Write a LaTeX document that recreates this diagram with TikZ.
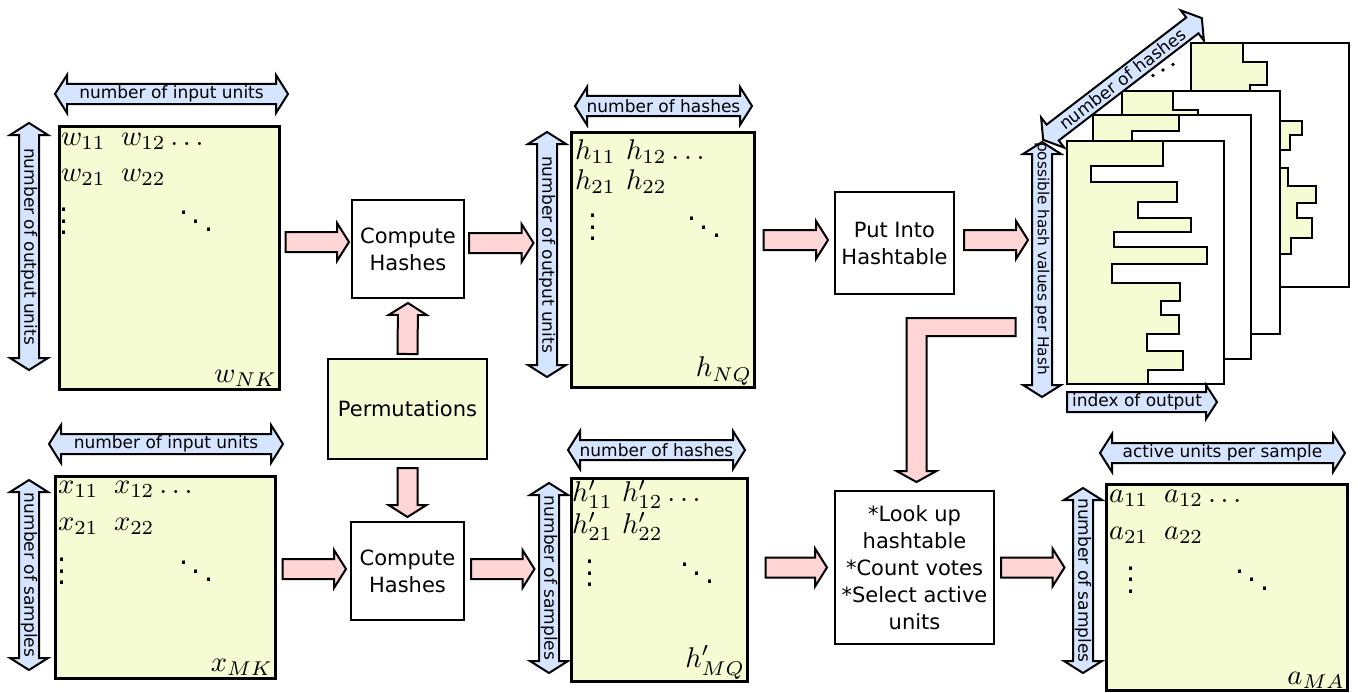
\RequirePackage{fix-cm}
\documentclass[tikz,border=0pt]{standalone}
\usepackage[no-math]{fontspec}
\setmainfont{DejaVu Sans}
\usetikzlibrary{calc}
\definecolor{mat}{RGB}{245,252,212}
\definecolor{dimblue}{RGB}{213,229,255}
\definecolor{flow}{RGB}{255,213,213}
\tikzset{
  matbox/.style={draw, line width=3pt, fill=mat, inner sep=0},
  proc/.style={draw, line width=2pt, fill=white, align=center, inner sep=0,
    font=\fontsize{21}{27}\selectfont},
  dim/.style={draw, line width=2pt, fill=dimblue},
  dimtext/.style={inner sep=0, font=\fontsize{17}{20}\selectfont},
  fat/.style={draw, line width=2pt, fill=flow},
  entry/.style={inner sep=0, anchor=west, scale=2.85},
  pageline/.style={line width=2pt}
}
% fat block arrow from #1 to #2
\newcommand{\fatarrow}[2]{
  \coordinate (fa-s) at (#1);
  \coordinate (fa-e) at (#2);
  \coordinate (fa-h) at ($(fa-e)!12pt!(fa-s)$);
  \draw[fat] ($(fa-s)!10pt!90:(fa-e)$) -- ($(fa-h)!10pt!-90:(fa-s)$) -- ($(fa-h)!19pt!-90:(fa-s)$)
    -- (fa-e) -- ($(fa-h)!19pt!90:(fa-s)$) -- ($(fa-h)!10pt!90:(fa-s)$) -- ($(fa-s)!10pt!-90:(fa-e)$) -- cycle;
}
% double headed size arrow: [text options] name, centre, angle, length, text
\newcommand{\dimarrow}[6][]{
  \begin{scope}[shift={#3}, rotate=#4]
    \pgfmathsetmacro\hl{#5/2}
    \draw[dim] (-\hl,0) --++(12,19) --++(0,-9) -- (\hl-12,10) --++(0,9) -- (\hl,0)
      --++(-12,-19) --++(0,9) -- (-\hl+12,-10) --++(0,-9) -- cycle;
  \end{scope}
  \node[dimtext, #1, rotate=#4] (#2) at #3 {#6};
}
% one page of the hashtable: left, top, right, bottom, steps
\newcommand{\hashpage}[5]{
  \filldraw[pageline, fill=white] (#1,#2) rectangle (#3,#4);
  \filldraw[pageline, fill=mat] (#1,#2) \foreach \sx/\sy in {#5}{ -| (\sx,\sy)} -- (#1,#4) -- cycle;
  \draw[pageline] (#1,#2) rectangle (#3,#4);
}

\begin{document}
\begin{tikzpicture}[x=1pt, y=-1pt]
\useasboundingbox (0,0) rectangle (1358,693);

% matrices
\node[matbox, minimum width=220, minimum height=263] (W) at (169,257.5) {};
\node[matbox, minimum width=183, minimum height=255] (H) at (662.5,259.5) {};
\node[matbox, minimum width=220, minimum height=202] (X) at (165,577) {};
\node[matbox, minimum width=176, minimum height=203] (Hp) at (659,579.5) {};
\node[matbox, minimum width=241, minimum height=206] (A) at (1226.5,587.5) {};
\foreach \b/\s/\last/\cA/\cB/\rA/\rB/\v/\d in {W/w/NK/3/63/17/53/7/139, H/h/NQ/5/56/21/51/24/135,
    X/x/MK/4/60/15/52/9/143, Hp/h'/MQ/2/52/18/50/21/128, A/a/MA/4/59/15/52/27/148}{
  \node[entry] (\b-11) at ($(\b.north west)+(\cA,\rA)$) {$\s_{11}$};
  \node[entry] (\b-12) at ($(\b.north west)+(\cB,\rA)$) {$\s_{12}\dots$};
  \node[entry] (\b-21) at ($(\b.north west)+(\cA,\rB)$) {$\s_{21}$};
  \node[entry] (\b-22) at ($(\b.north west)+(\cB,\rB)$) {$\s_{22}$};
  \node[entry, anchor=center] (\b-v) at ($(\b.north west)+(\v,88.5)$) {$\vdots$};
  \node[entry, anchor=center] (\b-d) at ($(\b.north west)+(\d,88.5)$) {$\ddots$};
  \node[entry, anchor=south east] (\b-last) at ($(\b.south east)+(-3,-3)$) {$\s_{\last}$};
}

% processing steps
\node[proc, minimum width=112, minimum height=98] (CH1) at (408,249) {Compute\\Hashes};
\node[proc, minimum width=113, minimum height=98] (CH2) at (407.5,571) {Compute\\Hashes};
\node[proc, minimum width=119, minimum height=102] (Put) at (894.5,243) {Put Into\\Hashtable};
\node[proc, minimum width=159, minimum height=153] (Lup) at (914.5,567.5) {*Look up\\hashtable\\*Count votes\\*Select active\\units};
\node[proc, fill=mat, minimum width=159, minimum height=100] (Perm) at (407.5,409) {Permutations};

% hashtable, back to front
\hashpage{1191}{43}{1349}{287}{1243/62, 1267/85, 1250/121, 1302/135, 1290/150, 1265/168, 1288/186,
  1316/203, 1297/218, 1312/238, 1291/254, 1260/287}
\hashpage{1122}{91}{1280}{334}{1173/110, 1198/334}
\hashpage{1093}{115}{1251}{359}{1179/131, 1132/359}
\hashpage{1067}{141}{1224}{384}{1163/166, 1091/182, 1177/202, 1138/218, 1191/232, 1114/247, 1207/264,
  1112/283, 1180/301, 1161/315, 1179/334, 1147/351, 1183/370, 1148/384}
\foreach \t in {-1,0,1}{\fill (1163+\t*10,70-\t*5.5) circle (1.8);}

% size arrows
\dimarrow{dW-top}{(171.5,94)}{0}{233}{number of input units}
\dimarrow{dW-left}{(29,246.5)}{-90}{247}{number of output units}
\dimarrow{dH-top}{(663.5,106)}{0}{177}{number of hashes}
\dimarrow{dH-left}{(547,254.5)}{-90}{245}{number of output units}
\dimarrow{dX-top}{(166,444)}{0}{234}{number of input units}
\dimarrow{dX-left}{(29,575)}{-90}{190}{number of samples}
\dimarrow{dHp-top}{(656.5,450)}{0}{177}{number of hashes}
\dimarrow{dHp-left}{(549,578)}{-90}{190}{number of samples}
\dimarrow{dA-top}{(1222.5,453)}{0}{245}{active units per sample}
\dimarrow{dA-left}{(1083,580.5)}{-90}{185}{number of samples}
\dimarrow[font=\fontsize{15.3}{18}\selectfont, yshift=11pt]{dT-left}{(1042,269.5)}{-90}{255}{possible hash values per Hash}
\dimarrow{dT-diag}{(1122.5,79)}{37.5}{200}{number of hashes}
\draw[dim] (1067,392) -- (1206,392) -- (1206,385) -- (1217,402) -- (1206,419) -- (1206,412) -- (1067,412) -- cycle;
\node[dimtext] (dT-bottom) at (1137,402) {index of output};

% data flow
\fatarrow{$(W.east |- CH1.west)+(5,-7)$}{$(CH1.west)+(-2,-7)$}
\fatarrow{$(CH1.east)+(4,-6)$}{$(H.west |- CH1.east)+(-36,-6)$}
\fatarrow{$(H.east |- Put.west)+(8,-3)$}{$(Put.west)+(-6,-3)$}
\fatarrow{$(Put.east)+(9,-3)$}{$(Put.east)+(73,-3)$}
\fatarrow{$(Perm.north)+(0,-4)$}{$(CH1.south)+(0,4)$}
\fatarrow{$(Perm.south)+(0,8)$}{$(CH2.north)+(0,-4)$}
\fatarrow{$(X.east |- CH2.west)+(6,-2)$}{$(CH2.west)+(-4,-2)$}
\fatarrow{$(CH2.east)+(6,-2)$}{$(Hp.west |- CH2.east)+(-35,-2)$}
\fatarrow{$(Hp.east |- Lup.west)+(17,0)$}{$(Lup.west)+(-7,0)$}
\fatarrow{$(Lup.east)+(6,0)$}{$(A.west |- Lup.east)+(-40,0)$}
\coordinate (tip) at ($(Lup.north)+(2,-8)$);
\draw[fat] (tip) --++(-20,-11) --++(10,0) --++(0,-153) --++(109,0) --++(0,18) --++(-89,0) --++(0,135) --++(10,0) -- cycle;
\end{tikzpicture}
\end{document}
